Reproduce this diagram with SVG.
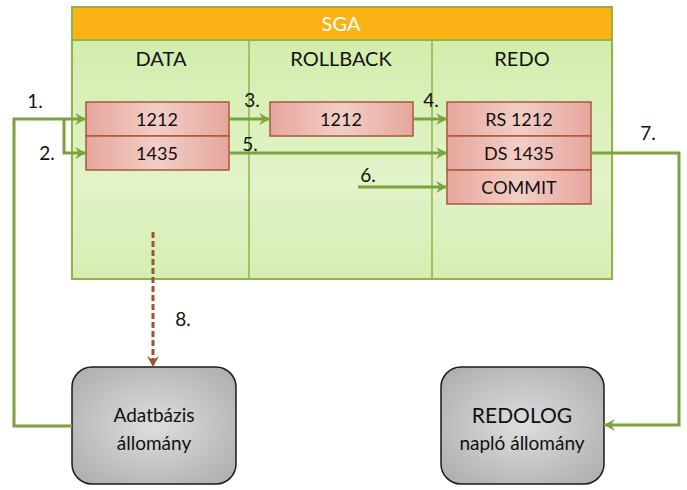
<svg xmlns="http://www.w3.org/2000/svg" width="687" height="490" viewBox="0 0 687 490">
<style>
  .t{font-family:Lato,"Open Sans","DejaVu Sans",sans-serif;fill:#111;text-anchor:middle;dominant-baseline:central}
  .hd{font-size:20px}
  .bx{font-size:18px}
  .lb{font-size:19px}
  .gt{font-size:19px}
  .pink{fill:url(#pk);stroke:#A65A3C;stroke-width:1.5}
  .gray{fill:url(#gr);stroke:#1a1a1a;stroke-width:1.5}
  .ln{fill:none;stroke:#7BA23F;stroke-width:3}
  .dash{fill:none;stroke:#A0522D;stroke-width:3;stroke-dasharray:6 3}
</style>
<defs>
  <linearGradient id="pk" x1="0" y1="0" x2="1" y2="0">
    <stop offset="0" stop-color="#E6A69C"/>
    <stop offset="0.5" stop-color="#F3CEC6"/>
    <stop offset="1" stop-color="#E6A69C"/>
  </linearGradient>
  <radialGradient id="gr" cx="0.5" cy="0.5" r="0.7">
    <stop offset="0" stop-color="#DEDEDE"/>
    <stop offset="1" stop-color="#ABABAB"/>
  </radialGradient>
  <linearGradient id="gb" x1="0" y1="0" x2="0" y2="1">
    <stop offset="0" stop-color="#D3EDAC"/>
    <stop offset="0.6" stop-color="#E2F3C9"/>
    <stop offset="1" stop-color="#D6EEB2"/>
  </linearGradient>
  <marker id="ag" markerUnits="userSpaceOnUse" markerWidth="12" markerHeight="12" refX="11" refY="6" orient="auto">
    <path d="M0,0 L11,6 L0,12 L4,6 z" fill="#7BA23F"/>
  </marker>
  <marker id="ab" markerUnits="userSpaceOnUse" markerWidth="12" markerHeight="12" refX="11" refY="6" orient="auto">
    <path d="M0,0 L11,6 L0,12 L4,6 z" fill="#A0522D"/>
  </marker>
</defs>
<rect width="687" height="490" fill="#fff"/>

<g id="sga">
  <rect x="72" y="40" width="540" height="239" fill="url(#gb)" stroke="#8DB545" stroke-width="2"/>
  <line x1="73" y1="204" x2="611" y2="204" stroke="#D8EDC0" stroke-width="1"/>
  <rect x="72" y="7" width="540" height="33" fill="#FBB214" stroke="#8DB545" stroke-width="2"/>
  <text class="t hd" x="341" y="23" style="fill:#fff">SGA</text>
  <line x1="249" y1="40" x2="249" y2="279" stroke="#8DB545" stroke-width="1.5"/>
  <line x1="432" y1="40" x2="432" y2="279" stroke="#8DB545" stroke-width="1.5"/>
  <text class="t hd" x="161" y="58">DATA</text>
  <text class="t hd" x="341" y="58">ROLLBACK</text>
  <text class="t hd" x="522" y="58">REDO</text>
</g>

<g id="data">
  <rect class="pink" x="86" y="102" width="143" height="34"/>
  <text class="t bx" x="157" y="119">1212</text>
  <rect class="pink" x="86" y="136" width="143" height="34"/>
  <text class="t bx" x="157" y="153">1435</text>
</g>

<g id="rollback">
  <rect class="pink" x="270" y="102" width="143" height="34"/>
  <text class="t bx" x="341" y="119">1212</text>
</g>

<g id="redo">
  <rect class="pink" x="447" y="102" width="144" height="34"/>
  <text class="t bx" x="519" y="119">RS 1212</text>
  <rect class="pink" x="447" y="136" width="144" height="34"/>
  <text class="t bx" x="519" y="153">DS 1435</text>
  <rect class="pink" x="447" y="170" width="144" height="34"/>
  <text class="t bx" x="519" y="187">COMMIT</text>
</g>

<g id="adatbazis">
  <rect class="gray" x="72" y="367" width="164" height="117" rx="20"/>
  <text class="t gt" x="154" y="414">Adatbázis</text>
  <text class="t gt" x="154" y="442">állomány</text>
</g>

<g id="redolog">
  <rect class="gray" x="441" y="367" width="163" height="117" rx="20"/>
  <text class="t gt" x="522" y="414" style="font-size:21px">REDOLOG</text>
  <text class="t gt" x="522" y="442">napló állomány</text>
</g>

<g id="connectors">
  <path class="ln" d="M72,426 H14 V119 H86" marker-end="url(#ag)"/>
  <path class="ln" d="M64,119 V153 H86" marker-end="url(#ag)"/>
  <path class="ln" d="M229,119 H270" marker-end="url(#ag)"/>
  <path class="ln" d="M413,119 H447" marker-end="url(#ag)"/>
  <path class="ln" d="M229,153 H447" marker-end="url(#ag)"/>
  <path class="ln" d="M358,187 H447" marker-end="url(#ag)"/>
  <path class="ln" d="M591,153 H679 V425 H604" marker-end="url(#ag)"/>
  <path class="dash" d="M153,232 V367" marker-end="url(#ab)"/>
  <text class="t lb" x="35" y="100">1.</text>
  <text class="t lb" x="47" y="152">2.</text>
  <text class="t lb" x="252" y="99">3.</text>
  <text class="t lb" x="431" y="99">4.</text>
  <text class="t lb" x="250" y="143">5.</text>
  <text class="t lb" x="368" y="174">6.</text>
  <text class="t lb" x="648" y="132">7.</text>
  <text class="t lb" x="183" y="318">8.</text>
</g>
</svg>
